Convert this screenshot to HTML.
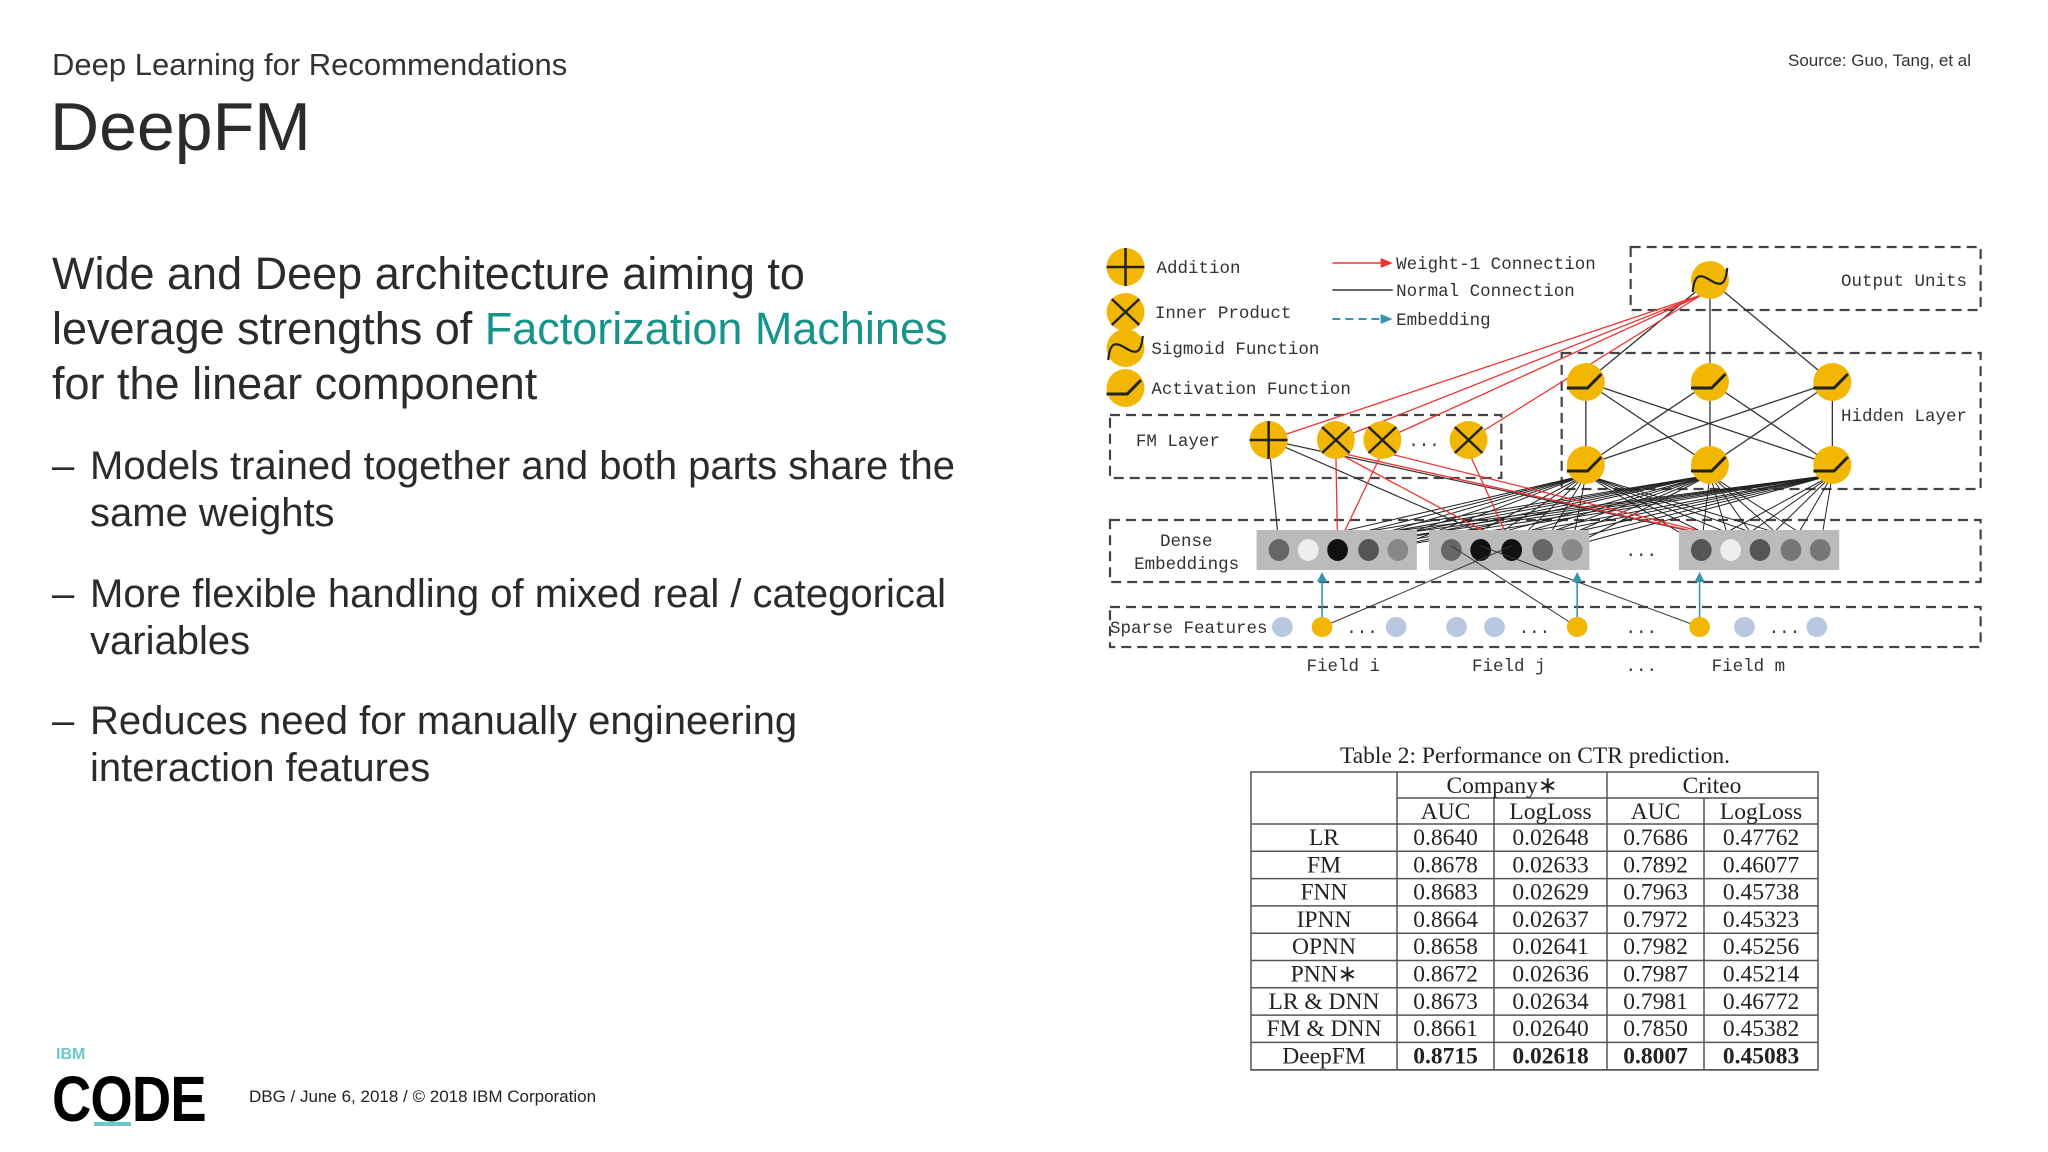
<!DOCTYPE html>
<html><head><meta charset="utf-8">
<style>
html,body{margin:0;padding:0;background:#fff;}
#root{position:relative;width:2048px;height:1152px;overflow:hidden;font-family:"Liberation Sans",sans-serif;color:#222;}
.abs{position:absolute;white-space:nowrap;}
.intro{font-size:45px;line-height:55px;color:#2b2b2b;}
.bul{font-size:40px;line-height:47px;color:#2b2b2b;}
.teal{color:#15958a;}
</style></head>
<body>
<div id="root">
<div class="abs" style="left:52px;top:47px;font-size:31px;color:#333;">Deep Learning for Recommendations</div>
<div class="abs" style="left:50px;top:88px;font-size:68px;color:#2b2b2b;">DeepFM</div>
<div class="abs" style="left:1788px;top:51px;font-size:17px;color:#333;">Source: Guo, Tang, et al</div>

<div class="abs intro" style="left:52px;top:246px;">Wide and Deep architecture aiming to<br>leverage strengths of <span class="teal">Factorization Machines</span><br>for the linear component</div>

<div class="abs bul" style="left:52px;top:443px;">–</div>
<div class="abs bul" style="left:90px;top:443px;">Models trained together and both parts share the<br>same weights</div>
<div class="abs bul" style="left:52px;top:571px;">–</div>
<div class="abs bul" style="left:90px;top:571px;">More flexible handling of mixed real / categorical<br>variables</div>
<div class="abs bul" style="left:52px;top:698px;">–</div>
<div class="abs bul" style="left:90px;top:698px;">Reduces need for manually engineering<br>interaction features</div>

<div class="abs" style="left:56px;top:1046px;font-size:16px;font-weight:bold;color:#6cc9c9;">IBM</div>
<div class="abs" style="left:52px;top:1062px;font-size:64px;font-weight:bold;color:#000;transform:scaleX(0.85);transform-origin:left top;letter-spacing:-1px;">CODE</div>
<div class="abs" style="left:94px;top:1122px;width:37px;height:4px;background:#6cc9c9;"></div>
<div class="abs" style="left:249px;top:1087px;font-size:17px;color:#222;">DBG / June 6, 2018 / © 2018 IBM Corporation</div>

<svg id="diag" class="abs" style="left:0;top:0" width="2048" height="1152"></svg>
</div>
<script>
const tableTitle = "Table 2: Performance on CTR prediction.";
const models = ["LR","FM","FNN","IPNN","OPNN","PNN∗","LR & DNN","FM & DNN","DeepFM"];
const companyAUC = ["0.8640","0.8678","0.8683","0.8664","0.8658","0.8672","0.8673","0.8661","0.8715"];
const companyLogLoss = ["0.02648","0.02633","0.02629","0.02637","0.02641","0.02636","0.02634","0.02640","0.02618"];
const criteoAUC = ["0.7686","0.7892","0.7963","0.7972","0.7982","0.7987","0.7981","0.7850","0.8007"];
const criteoLogLoss = ["0.47762","0.46077","0.45738","0.45323","0.45256","0.45214","0.46772","0.45382","0.45083"];

const NS="http://www.w3.org/2000/svg";
const svg=document.getElementById('diag');
function mk(tag,attrs,parent){const e=document.createElementNS(NS,tag);for(const k in attrs)e.setAttribute(k,attrs[k]);(parent||svg).appendChild(e);return e;}
function txt(x,y,s,attrs,parent){const t=mk('text',Object.assign({x:x,y:y},attrs||{}),parent);t.textContent=s;return t;}

// ---------- Table ----------
const tg=mk('g',{});


const TF='font-family:"Liberation Serif",serif;font-size:23.5px;fill:#222';
const ttl=txt(1535,763,tableTitle,{style:TF,'text-anchor':'middle'},tg);


const colX=[1251,1397,1494,1607,1704,1818];
const rowH=27.3;
const lineS={stroke:'#555','stroke-width':1.5};
mk('rect',{x:1251,y:772,width:567,height:298,fill:'none',stroke:'#555','stroke-width':1.5},tg);
mk('line',Object.assign({x1:1397,y1:798,x2:1818,y2:798},lineS),tg);
for(let i=0;i<=models.length;i++){const y=824+i*rowH;mk('line',Object.assign({x1:1251,y1:y,x2:1818,y2:y},lineS),tg);}
mk('line',Object.assign({x1:1397,y1:772,x2:1397,y2:1070},lineS),tg);
mk('line',Object.assign({x1:1607,y1:772,x2:1607,y2:1070},lineS),tg);
mk('line',Object.assign({x1:1494,y1:798,x2:1494,y2:1070},lineS),tg);
mk('line',Object.assign({x1:1704,y1:798,x2:1704,y2:1070},lineS),tg);
txt(1502,793,"Company∗",{style:TF,'text-anchor':'middle'},tg);
txt(1712,793,"Criteo",{style:TF,'text-anchor':'middle'},tg);
const subs=["AUC","LogLoss","AUC","LogLoss"];
for(let c=0;c<4;c++)txt((colX[c+1]+colX[c+2])/2,819,subs[c],{style:TF,'text-anchor':'middle'},tg);
const cols=[companyAUC,companyLogLoss,criteoAUC,criteoLogLoss];
for(let r=0;r<models.length;r++){
  const y=824+r*rowH+21;
  const bold=r===models.length-1?';font-weight:bold':'';
  const m=txt(1324,y,models[r],{style:TF,'text-anchor':'middle'},tg);
  
  
  for(let c=0;c<4;c++){const t=txt((colX[c+1]+colX[c+2])/2,y,cols[c][r],{style:TF+bold,'text-anchor':'middle'},tg);
    
    }
}

// ---------- Diagram ----------
const SX=1.724;
const G=mk('g',{transform:'translate(1110,0) scale('+SX+',1) translate(-1102,0)'});


const YEL='#f2b705';
const dash2={fill:'none',stroke:'#444','stroke-width':2.2,'stroke-dasharray':'10,6','vector-effect':'non-scaling-stroke'};
mk('rect',Object.assign({x:1404,y:247,width:203,height:63},dash2),G);
mk('rect',Object.assign({x:1364,y:353,width:243,height:136},dash2),G);
mk('rect',Object.assign({x:1102,y:415,width:227,height:63},dash2),G);
mk('rect',Object.assign({x:1102,y:520,width:505,height:62},dash2),G);
mk('rect',Object.assign({x:1102,y:607,width:505,height:40},dash2),G);
const ln=(x1,y1,x2,y2,c,w)=>mk('line',{x1,y1,x2,y2,stroke:c,'stroke-width':w||1.3,'vector-effect':'non-scaling-stroke'},G);
const out=[1450,280];
const hTop=[[1378,382],[1450,382],[1521,382]];
const hBot=[[1378,465],[1450,465],[1521,465]];
const fm=[[1194,440],[1233,440],[1260,440],[1310,440]];
const dense=[1200,1217,1234,1252,1269,1300,1317,1335,1353,1370,1445,1462,1479,1497,1514];
const denseCol=['#666','#eee','#111','#555','#888','#666','#111','#111','#666','#888','#555','#eee','#555','#777','#777'];
for(const d of dense)for(const h of hBot)ln(d,546,h[0],h[1]+10,'#222',1);
for(const a of hTop)for(const b of hBot)ln(a[0],a[1],b[0],b[1],'#333',1.3);
for(const h of hTop)ln(h[0],h[1],out[0],out[1],'#333',1.3);
ln(1194,440,1200,546,'#333',1.2);ln(1194,440,1335,546,'#333',1.2);ln(1194,440,1479,546,'#333',1.2);
for(const f of fm)ln(f[0],f[1],out[0]-5,out[1]+15,'#e33',1.3);
[[1234,546,1233,452],[1234,546,1260,452],[1335,546,1233,452],[1335,546,1310,452],[1479,546,1260,452],[1479,546,1233,452]].forEach(a=>ln(...a,'#e33',1.3));
[[1187,1280],[1287,1380],[1432,1525]].forEach(r=>mk('rect',{x:r[0],y:530,width:r[1]-r[0],height:40,fill:'#bbb'},G));
dense.forEach((x,i)=>mk('ellipse',{cx:x,cy:550,rx:6,ry:11,fill:denseCol[i]},G));
const sparse=[[1202,'#b8c8e0'],[1225,YEL],[1268,'#b8c8e0'],[1303,'#b8c8e0'],[1325,'#b8c8e0'],[1373,YEL],[1444,YEL],[1470,'#b8c8e0'],[1512,'#b8c8e0']];
ln(1225,627,1335,546,'#333',1);ln(1373,627,1300,546,'#333',1);ln(1444,627,1317,546,'#333',1);
sparse.forEach(s=>mk('ellipse',{cx:s[0],cy:627,rx:6,ry:10,fill:s[1]},G));
[1225,1373,1444].forEach(x=>{ln(x,617,x,578,'#3a93b0',1.6);mk('path',{d:`M${x-3},582 L${x},572 L${x+3},582Z`,fill:'#3a93b0'},G);});
const node=(x,y)=>mk('ellipse',{cx:x,cy:y,rx:11,ry:19,fill:YEL},G);
node(...out);hTop.forEach(h=>node(...h));hBot.forEach(h=>node(...h));fm.forEach(f=>node(...f));
const sym=(x,y,t)=>{ if(t==='+'){ln(x-11,y,x+11,y,'#222',2.5);ln(x,y-19,x,y+19,'#222',2.5);}
 else if(t==='x'){ln(x-8,y-13,x+8,y+13,'#222',2.5);ln(x+8,y-13,x-8,y+13,'#222',2.5);}
 else if(t==='s'){mk('path',{d:`M${x-10},${y+12} C${x-8},${y-30} ${x+8},${y+30} ${x+10},${y-12}`,fill:'none',stroke:'#222','stroke-width':2.2,'vector-effect':'non-scaling-stroke'},G);}
 else {mk('path',{d:`M${x-11},${y+6} L${x+1},${y+6} L${x+9},${y-8}`,fill:'none',stroke:'#222','stroke-width':3,'vector-effect':'non-scaling-stroke'},G);}};
sym(...out,'s');hTop.forEach(h=>sym(...h,'a'));hBot.forEach(h=>sym(...h,'a'));
sym(...fm[0],'+');fm.slice(1).forEach(f=>sym(...f,'x'));
node(1111,267);sym(1111,267,'+');node(1111,312);sym(1111,312,'x');node(1111,348);sym(1111,348,'s');node(1111,388);sym(1111,388,'a');
ln(1231,263,1262,263,'#e33',1.6);mk('path',{d:'M1259,258 L1266,263 L1259,268Z',fill:'#e33'},G);
ln(1231,290,1266,290,'#333',1.6);
mk('line',{x1:1231,y1:319,x2:1259,y2:319,stroke:'#3a93b0','stroke-width':2,'stroke-dasharray':'8,5','vector-effect':'non-scaling-stroke'},G);
mk('path',{d:'M1259,314 L1266,319 L1259,324Z',fill:'#3a93b0'},G);

const X=x=>1110+SX*(x-1102);
const L=[["Addition",1129,273],["Inner Product",1128,318],["Sigmoid Function",1126,354],["Activation Function",1126,394],
["Weight-1 Connection",1268,269],["Normal Connection",1268,296],["Embedding",1268,325],["Output Units",1526,286],
["Hidden Layer",1526,421],["FM Layer",1117,446],["Dense",1131,546],["Embeddings",1116,569],["Sparse Features",1102,633],
["Field i",1216,671],["Field j",1312,671],["...",1401,671],["Field m",1451,671],["...",1239,633],["...",1339,633],["...",1401,633],["...",1484,633],["...",1401,556],["...",1275,446]];
for(const l of L){const t=txt(X(l[1]),l[2],l[0],{style:'font-family:"Liberation Mono",monospace;font-size:17.5px;fill:#333'});
 
 }
</script>
</body></html>
